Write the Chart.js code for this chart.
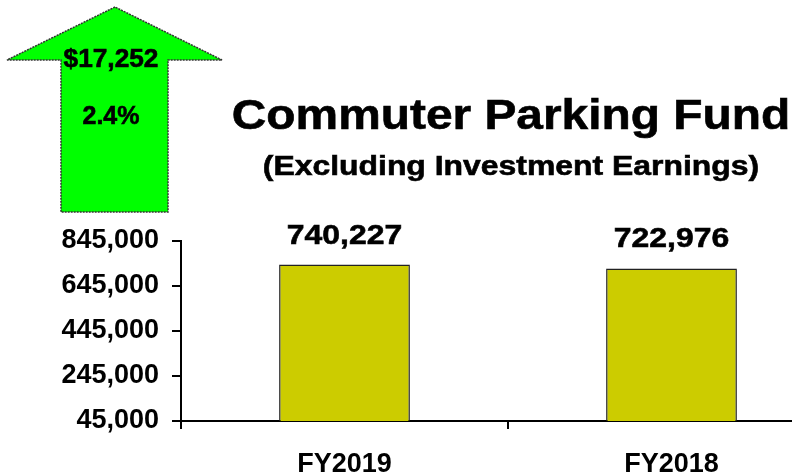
<!DOCTYPE html>
<html>
<head>
<meta charset="utf-8">
<script src="https://cdn.jsdelivr.net/npm/chart.js@4/dist/chart.umd.min.js"></script>
<style>
  body { margin: 0; width: 792px; height: 476px; overflow: hidden; background: #fff; position: relative; }
  #wrap { position: absolute; left: 0; top: 0; width: 850px; height: 476px; }
  #over { position: absolute; left: 0; top: 0; }
</style>
</head>
<body>
<div id="wrap"><canvas id="barchart" width="850" height="476"></canvas></div>
<svg id="over" width="792" height="476" font-family="'Liberation Sans', Arial, sans-serif" font-weight="bold">
  <polygon points="115,7 7,60 61,60 61,212 168,212 168,60 222,60" fill="#00ff00" stroke="#333" stroke-width="1.5" stroke-dasharray="2,1"/>
  <g stroke="#000" stroke-width="0.6" text-anchor="middle">
    <text id="changeAmt" transform="translate(111,67) scale(1.05,1)" font-size="25"></text>
    <text id="changePct" transform="translate(111,124)" font-size="25"></text>
    <text transform="translate(511,129) scale(1.14,1)" font-size="42">Commuter Parking Fund</text>
    <text transform="translate(511,175) scale(1.14,1)" font-size="28">(Excluding Investment Earnings)</text>
  </g>
</svg>
<script>
var years = ["FY2019", "FY2018"];
var revenue = [740227, 722976];
var yTicks = [45000, 245000, 445000, 645000, 845000];
var changeAmount = "$17,252";
var changePercent = "2.4%";

document.getElementById("changeAmt").textContent = changeAmount;
document.getElementById("changePct").textContent = changePercent;

var FONT = "'Liberation Sans', Arial, sans-serif";

// value labels above the bars, stretched a bit like the original
var barLabels = {
  id: "barLabels",
  afterDatasetsDraw: function (chart) {
    var ctx = chart.ctx;
    var meta = chart.getDatasetMeta(0);
    ctx.save();
    ctx.font = "bold 28px " + FONT;
    ctx.fillStyle = "#000";
    ctx.strokeStyle = "#000";
    ctx.lineWidth = 0.6;
    ctx.textAlign = "center";
    ctx.textBaseline = "alphabetic";
    meta.data.forEach(function (bar, i) {
      var txt = revenue[i].toLocaleString("en-US");
      ctx.save();
      ctx.translate(bar.x, bar.y - 21);
      ctx.scale(1.14, 1);
      ctx.fillText(txt, 0, 0);
      ctx.strokeText(txt, 0, 0);
      ctx.restore();
    });
    ctx.restore();
  }
};

var chart1 = document.getElementById("barchart");
var myChart1 = new Chart(chart1, {
  type: "bar",
  data: {
    labels: years,
    datasets: [
      {
        data: revenue,
        backgroundColor: "#cccc00",
        borderColor: "#222",
        borderWidth: 1.5,
        borderSkipped: "bottom",
        barPercentage: 0.8,
        categoryPercentage: 0.5,
      },
    ],
  },
  options: {
    responsive: false,
    animation: false,
    layout: { padding: { top: 241, right: 15, left: 0, bottom: 0 } },
    plugins: {
      legend: { display: false },
      title: { display: false },
      tooltip: { enabled: false },
    },
    scales: {
      x: {
        offset: true,
        grid: {
          offset: true,
          drawOnChartArea: false,
          drawTicks: true,
          tickLength: 8,
          color: "#000",
          lineWidth: 2,
        },
        border: { color: "#000", width: 2 },
        ticks: {
          color: "#000",
          padding: 19,
          font: { family: FONT, size: 27, weight: "bold" },
        },
        afterFit: function (s) { s.height = 55; },
      },
      y: {
        min: 45000,
        max: 845000,
        afterBuildTicks: function (s) {
          s.ticks = yTicks.map(function (v) { return { value: v }; });
        },
        grid: {
          drawOnChartArea: false,
          drawTicks: true,
          tickLength: 9,
          color: "#000",
          lineWidth: 2,
        },
        border: { color: "#000", width: 2 },
        ticks: {
          color: "#000",
          padding: 13,
          font: { family: FONT, size: 27, weight: "bold" },
          callback: function (v) { return Number(v).toLocaleString("en-US"); },
        },
        afterFit: function (s) { s.width = 181; },
      },
    },
  },
  plugins: [barLabels],
});
</script>
</body>
</html>
